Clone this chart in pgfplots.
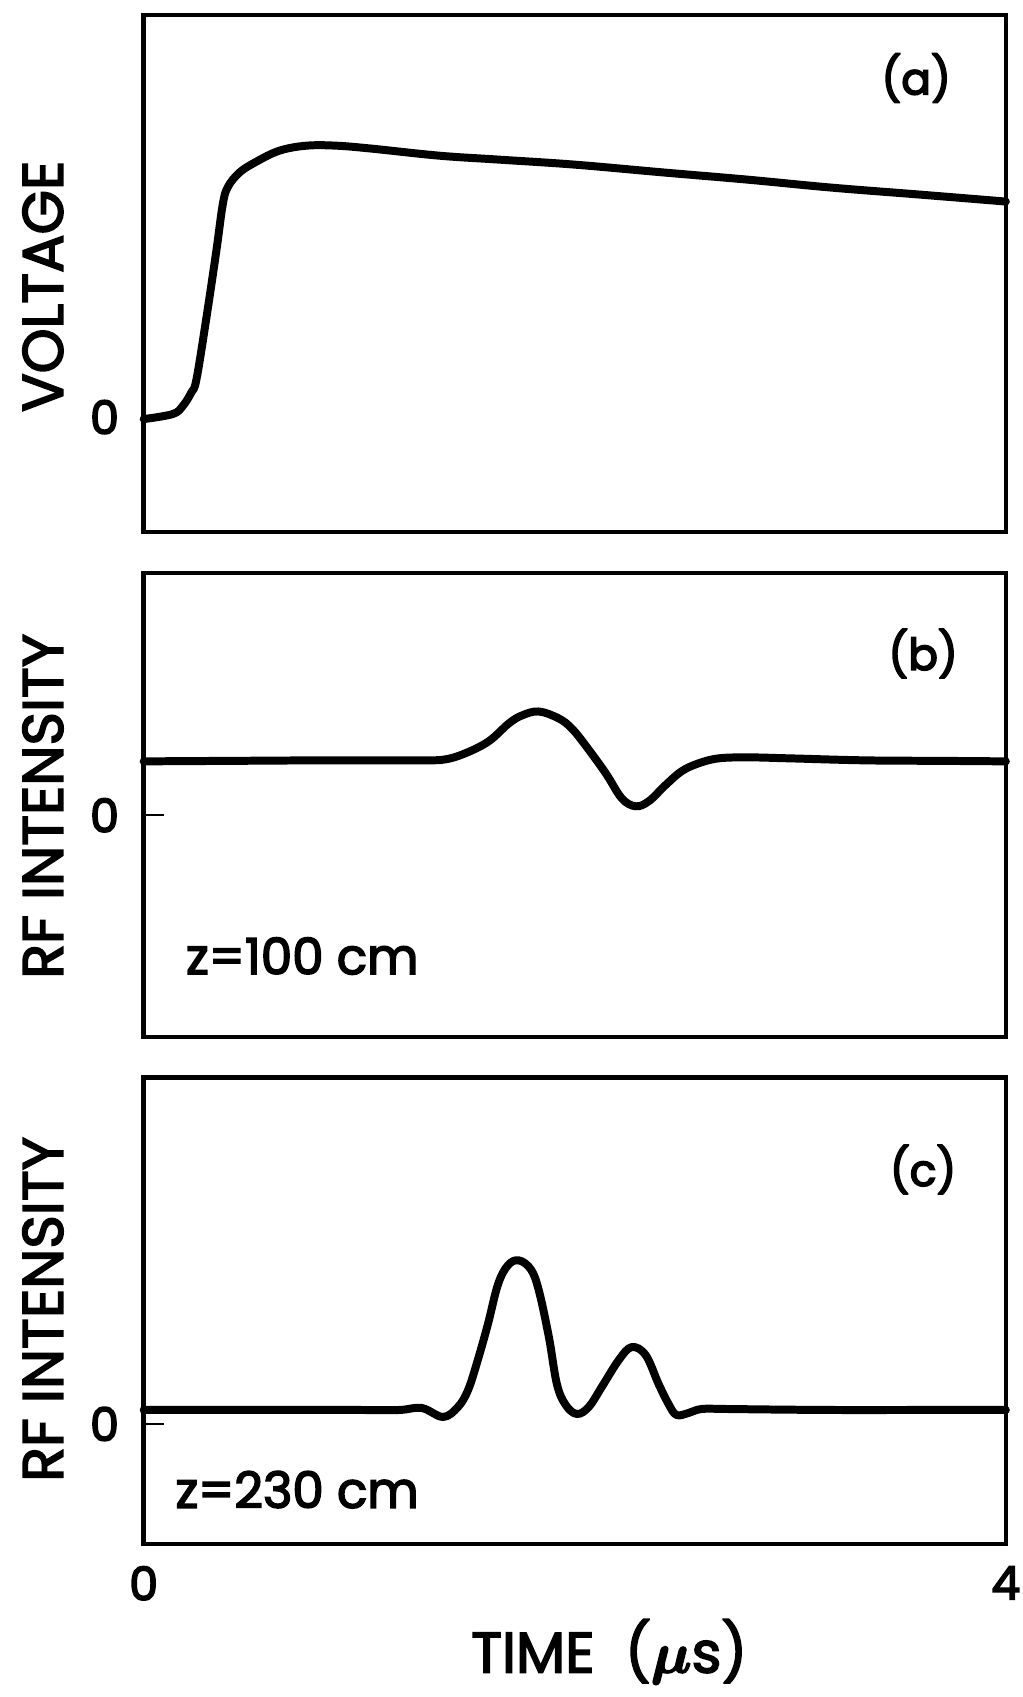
\documentclass[border=0pt]{standalone}
\usepackage{fontspec}
\setmainfont{Poppins}
\usepackage{bm}
\usepackage{pgfplots}
\pgfplotsset{compat=1.18}

% fill and stroke the glyphs, for the heavier hand lettering
\newcommand{\hv}[1]{\special{pdf:code 2 Tr 0.4 w}#1\special{pdf:code 0 Tr}}

\pgfplotsset{
  panel/.style={
    scale only axis, width=216pt,
    xmin=0, xmax=4,
    axis line style={line width=1.1pt},
    tick style={line width=0.6pt, black},
    major tick length=5pt,
    ytick={0}, xtick=\empty,
    ytick pos=left, xtick pos=bottom,
    clip=false,
    /pgf/number format/assume math mode=true,
    ticklabel style={font=\fontsize{11.5}{12}\selectfont, inner sep=0.5pt},
    yticklabel style={xshift=-5.5pt},
    yticklabels={\hv{0}},
  },
  trace/.style={black, line width=2pt, smooth, tension=0.6,
    line cap=round, line join=round},
}
\newcommand{\biglab}{\fontsize{14.3}{15}\selectfont}
\newcommand{\midlab}{\fontsize{12.5}{13}\selectfont}
\newcommand{\panlab}{\fontsize{11}{12}\selectfont}

\begin{document}
\begin{tikzpicture}
\path (-36pt,3.75pt) rectangle (218.25pt,-420.5pt);

% (a) voltage
\begin{axis}[panel, at={(0pt,0pt)}, anchor=north west,
  height=129.5pt, ymin=-1.15, ymax=4.03]
\addplot[trace] coordinates {
  (0,-0.02) (0.134,0.03) (0.181,0.11) (0.222,0.25) (0.245,0.38)
  (0.292,1.01) (0.338,1.68) (0.366,2.12) (0.389,2.30) (0.444,2.45)
  (0.523,2.56) (0.63,2.67) (0.755,2.72) (0.894,2.72) (1.06,2.69)
  (1.37,2.62) (1.65,2.58) (2.0,2.53) (2.42,2.45) (2.8,2.38)
  (3.19,2.30) (3.6,2.23) (4.0,2.16)
};
\node[xshift=-25.25pt, rotate=90, font=\biglab] at (rel axis cs:0,0.475) {\hv{VOLTAGE}};
\node[font=\panlab] at (rel axis cs:0.896,0.878) {\hv{(a)}};
\end{axis}

% (b) rf intensity, z = 100 cm
\begin{axis}[panel, at={(0pt,-139.75pt)}, anchor=north west,
  height=116.25pt, ymin=-2.22, ymax=2.43]
\addplot[trace] coordinates {
  (0,0.54) (0.4,0.545) (0.8,0.55) (1.1,0.55) (1.3,0.55)
  (1.40,0.56) (1.491,0.62) (1.60,0.74) (1.694,0.92)
  (1.755,1.00) (1.833,1.04) (1.926,0.97) (1.986,0.87) (2.05,0.70)
  (2.144,0.42) (2.218,0.17) (2.282,0.09) (2.343,0.14) (2.42,0.30)
  (2.495,0.44) (2.574,0.52) (2.667,0.57) (2.806,0.58) (3.0,0.57)
  (3.35,0.55) (3.7,0.545) (4.0,0.54)
};
\node[xshift=-25.25pt, rotate=90, font=\biglab] at (rel axis cs:0,0.497) {\hv{RF INTENSITY}};
\node[font=\panlab] at (rel axis cs:0.904,0.826) {\hv{(b)}};
\node[font=\midlab] at (rel axis cs:0.184,0.174) {\hv{z=100 cm}};
\end{axis}

% (c) rf intensity, z = 230 cm
\begin{axis}[panel, at={(0pt,-266.25pt)}, anchor=north west,
  height=116.75pt, ymin=-1.20, ymax=3.47,
  xtick={0,4}, xticklabels={\hv{0},\hv{4}}, xticklabel style={yshift=-5pt}]
\addplot[trace] coordinates {
  (0,0.14) (0.4,0.14) (0.8,0.14) (1.0,0.14) (1.185,0.14) (1.29,0.16)
  (1.389,0.07) (1.458,0.17)
  (1.505,0.34) (1.55,0.64) (1.597,1.00) (1.644,1.40) (1.69,1.59)
  (1.74,1.64) (1.796,1.55) (1.833,1.34) (1.88,0.87) (1.917,0.40)
  (1.958,0.19) (2.01,0.10) (2.065,0.17) (2.125,0.37) (2.204,0.64)
  (2.264,0.77) (2.329,0.69) (2.389,0.40) (2.435,0.20) (2.472,0.09)
  (2.528,0.11) (2.588,0.15) (2.70,0.15) (2.9,0.145) (3.2,0.14)
  (3.6,0.14) (4.0,0.14)
};
\node[xshift=-25.25pt, rotate=90, font=\biglab] at (rel axis cs:0,0.503) {\hv{RF INTENSITY}};
\node[font=\panlab] at (rel axis cs:0.904,0.803) {\hv{(c)}};
\node[font=\midlab] at (rel axis cs:0.178,0.116) {\hv{z=230 cm}};
\node[font=\biglab] at (rel axis cs:0.54,0) [yshift=-27pt] {\hv{TIME\ \ ($\bm{\mu}$s)}};
\end{axis}
\end{tikzpicture}
\end{document}
